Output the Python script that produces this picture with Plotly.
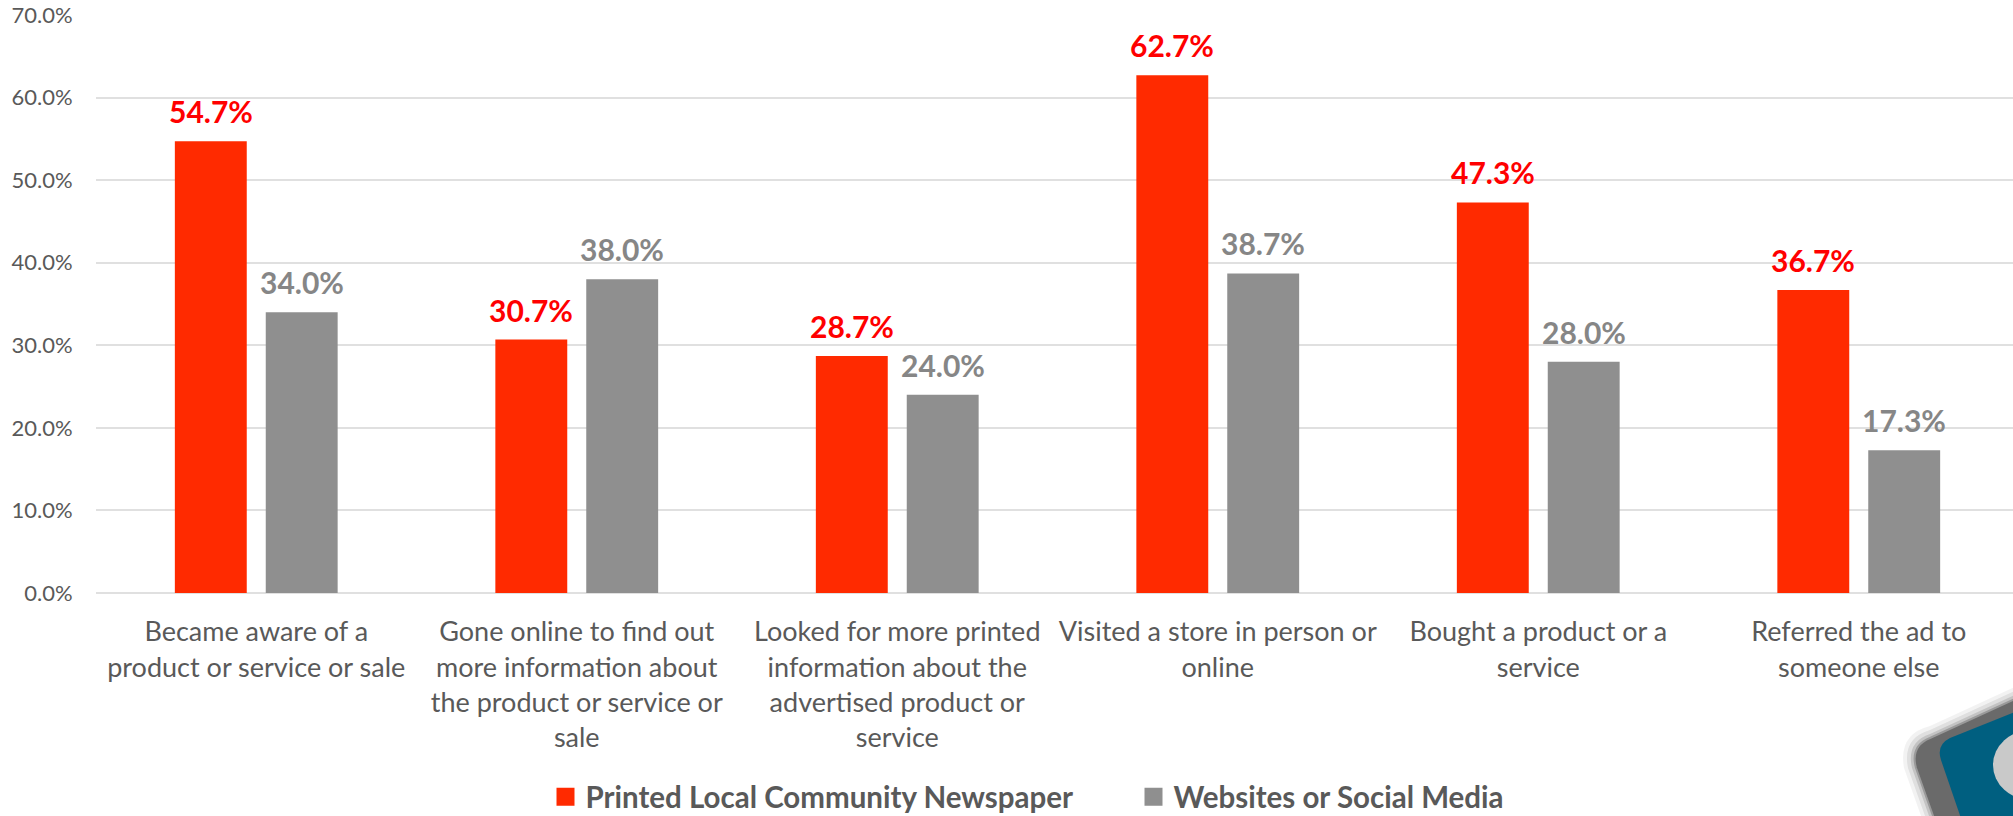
import plotly.graph_objects as go

categories = [
    "Became aware of a<br>product or service or sale",
    "Gone online to find out<br>more information about<br>the product or service or<br>sale",
    "Looked for more printed<br>information about the<br>advertised product or<br>service",
    "Visited a store in person or<br>online",
    "Bought a product or a<br>service",
    "Referred the ad to<br>someone else",
]
newspaper = [54.7, 30.7, 28.7, 62.7, 47.3, 36.7]
websites = [34.0, 38.0, 24.0, 38.7, 28.0, 17.3]
y_ticks = [0, 10, 20, 30, 40, 50, 60, 70]
series_names = ["Printed Local Community Newspaper", "Websites or Social Media"]

RED = "#ff2a00"
GREY = "#8f8f8f"
RED_TEXT = "#ff0000"
GREY_TEXT = "#868686"
AXIS_TEXT = "#595959"
FONT = "Lato"

WIDTH, HEIGHT = 2013, 816
LEFT, TOP, BOTTOM = 96, 15, 223
SLOT_PX = 320.5
plot_w = WIDTH - LEFT
plot_h = HEIGHT - TOP - BOTTOM


def px(x, y):
    """Convert page pixels to paper coordinates."""
    return (x - LEFT) / plot_w, (HEIGHT - BOTTOM - y) / plot_h


def curve(start, segments):
    """Closed path of quadratic corners and straight runs, in page pixels."""
    u, v = px(*start)
    d = f"M{u:.5f},{v:.5f}"
    for seg in segments:
        if len(seg) == 2:
            u, v = px(*seg)
            d += f" L{u:.5f},{v:.5f}"
        else:
            a, b = px(seg[0], seg[1])
            c, e = px(seg[2], seg[3])
            d += f" Q{a:.5f},{b:.5f} {c:.5f},{e:.5f}"
    return d + " Z"


fig = go.Figure()
fig.add_bar(name=series_names[0], x=categories, y=newspaper,
            marker=dict(color=RED, line=dict(width=0)), showlegend=False)
fig.add_bar(name=series_names[1], x=categories, y=websites,
            marker=dict(color=GREY, line=dict(width=0)), showlegend=False)

# Legend keys: empty square-marker traces give swatches larger than the bar default
for name, colour in zip(series_names, (RED, GREY)):
    fig.add_scatter(name=name, x=[None], y=[None], mode="markers",
                    marker=dict(symbol="square", size=16, color=colour,
                                line=dict(color=colour, width=2)))

# Value labels float well above each bar, offset to the centre of its bar
annotations = []
for series, colour, shift in ((newspaper, RED_TEXT, -45.5), (websites, GREY_TEXT, 45.5)):
    for cat, val in zip(categories, series):
        annotations.append(dict(
            x=cat, y=val, xref="x", yref="y", text=f"<b>{val:.1f}%</b>",
            showarrow=False, xshift=shift, yshift=10, yanchor="bottom",
            font=dict(family=FONT, size=30, color=colour),
        ))

# Badge in the lower right corner of the page
shapes = []
for grow, alpha in ((12, 0.05), (8, 0.08), (4, 0.12)):
    shapes.append(dict(
        type="path", xref="paper", yref="paper", line=dict(width=0),
        fillcolor=f"rgba(0,0,0,{alpha})",
        path=curve((2030, 692 - grow), [
            (1930, 738 - grow),
            (1910 - grow, 746 - grow, 1916 - grow, 768),
            (1938 - grow, 830), (2030, 830),
        ]),
    ))
shapes += [
    dict(type="path", xref="paper", yref="paper", line=dict(color="#9a9a9a", width=2),
         fillcolor="#6a6a6a",
         path=curve((2030, 692), [
             (1930, 738), (1910, 746, 1916, 768), (1938, 830), (2030, 830),
         ])),
    dict(type="path", xref="paper", yref="paper", line=dict(width=0),
         fillcolor="#005f80",
         path=curve((2030, 706), [
             (1950, 738), (1936, 745, 1941, 760), (1965, 830), (2030, 830),
         ])),
    dict(type="circle", xref="paper", yref="paper", line=dict(width=0),
         fillcolor="#c9c9c9",
         x0=px(1993, 0)[0], x1=px(2070, 0)[0],
         y0=px(0, 800)[1], y1=px(0, 730)[1]),
]

fig.update_layout(
    width=WIDTH, height=HEIGHT,
    margin=dict(l=LEFT, r=0, t=TOP, b=BOTTOM, pad=0, autoexpand=False),
    paper_bgcolor="white", plot_bgcolor="white",
    barmode="group", bargap=0.4328, bargroupgap=0.209,
    font=dict(family=FONT, color=AXIS_TEXT),
    annotations=annotations, shapes=shapes,
    legend=dict(
        orientation="h", xref="paper", yref="paper",
        x=px(545.5, 0)[0], xanchor="left",
        y=px(0, 771)[1], yanchor="top",
        font=dict(family=FONT, size=29.5, color=AXIS_TEXT, weight="bold"),
        entrywidthmode="pixels", entrywidth=543,
        bgcolor="rgba(0,0,0,0)",
        traceorder="normal",
    ),
    xaxis=dict(
        type="category", categoryorder="array", categoryarray=categories,
        range=[-0.5, -0.5 + plot_w / SLOT_PX],
        tickangle=0, tickfont=dict(family=FONT, size=27, color=AXIS_TEXT),
        ticks="outside", ticklen=15, tickcolor="rgba(0,0,0,0)",
        showline=False, showgrid=False, zeroline=False,
    ),
    yaxis=dict(
        range=[0, 70], tickvals=y_ticks, ticktext=[f"{v:.1f}%" for v in y_ticks],
        tickfont=dict(family=FONT, size=22, color=AXIS_TEXT),
        ticks="outside", ticklen=18, tickcolor="rgba(0,0,0,0)",
        gridcolor="#e0e0e0", gridwidth=2,
        zeroline=True, zerolinecolor="#e0e0e0", zerolinewidth=2,
        showline=False,
    ),
)

fig.write_html("out.html")
